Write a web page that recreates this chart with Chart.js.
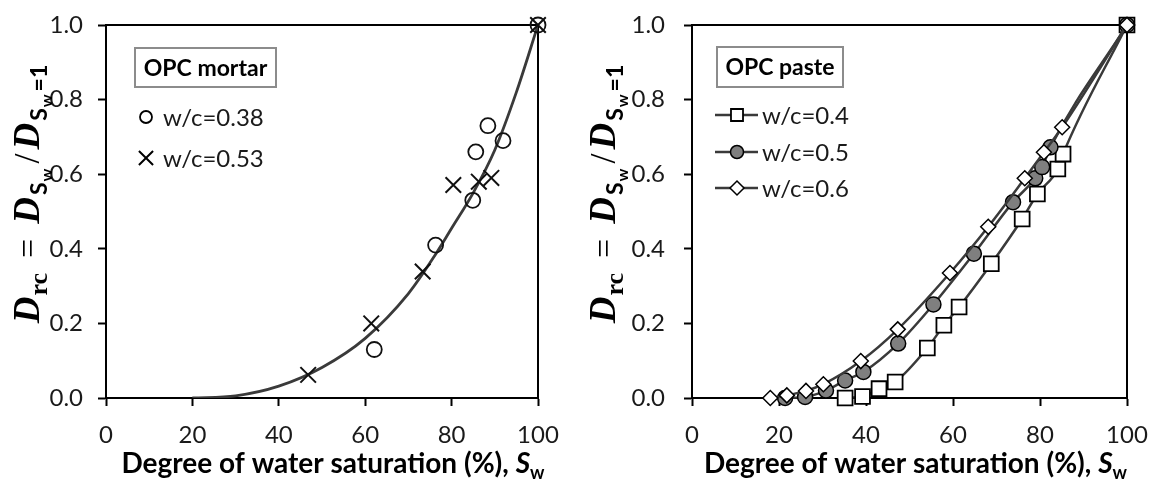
<!DOCTYPE html>
<html>
<head>
<meta charset="utf-8">
<script src="https://cdn.jsdelivr.net/npm/chart.js@4.4.1/dist/chart.umd.min.js"></script>
<style>
  html, body { margin: 0; padding: 0; background: #fff; }
  #wrap { position: relative; width: 1151px; height: 481px; }
  canvas { position: absolute; top: 0; }
  #chartMortar { left: 0; }
  #chartPaste { left: 576px; }
</style>
</head>
<body>
<div id="wrap">
  <canvas id="chartMortar" width="575" height="481"></canvas>
  <canvas id="chartPaste" width="575" height="481"></canvas>
</div>
<script>
// ---------- Data ----------
const xTicks = [0, 20, 40, 60, 80, 100];
const yTicks = [0, 0.2, 0.4, 0.6, 0.8, 1.0];

// OPC mortar, fitted curve
const mortarFitX = [20, 30, 40, 50, 60, 70, 76, 80, 85, 90, 95, 100];
const mortarFitY = [0, 0.006, 0.032, 0.082, 0.16, 0.28, 0.38, 0.455, 0.55, 0.665, 0.82, 1.0];
// w/c = 0.38 (circles)
const mortar38X = [62.1, 76.3, 84.9, 85.6, 88.4, 91.9, 100];
const mortar38Y = [0.13, 0.41, 0.53, 0.66, 0.73, 0.69, 1.0];
// w/c = 0.53 (crosses)
const mortar53X = [46.8, 61.4, 73.3, 80.4, 86.3, 89.2, 100];
const mortar53Y = [0.062, 0.2, 0.339, 0.571, 0.58, 0.59, 1.0];

// OPC paste
const paste4X = [35.2, 39.2, 43.0, 46.7, 54.1, 57.9, 61.4, 68.8, 75.9, 79.4, 84.1, 85.3, 100];
const paste4Y = [0.0, 0.004, 0.025, 0.043, 0.134, 0.195, 0.244, 0.36, 0.48, 0.547, 0.614, 0.654, 1.0];
const paste5X = [21.4, 26.0, 30.8, 35.2, 39.4, 47.4, 55.5, 64.8, 73.8, 78.9, 80.5, 82.4, 100];
const paste5Y = [0.0, 0.003, 0.02, 0.047, 0.07, 0.146, 0.251, 0.387, 0.525, 0.589, 0.619, 0.672, 1.0];
const paste6X = [18.0, 21.8, 26.2, 30.2, 38.8, 47.3, 59.3, 68.1, 76.5, 80.9, 85.1, 100];
const paste6Y = [0.0, 0.007, 0.019, 0.037, 0.099, 0.184, 0.335, 0.459, 0.589, 0.659, 0.726, 1.0];

// ---------- helpers ----------
const SANS = 'Lato, "Open Sans", sans-serif';
const SERIF = '"Liberation Serif", "DejaVu Serif", serif';
const LINE = '#3a3a3a';

function pts(xs, ys){ return xs.map((x, i) => ({ x: x, y: ys[i] })); }

// draw a run of text pieces [text, font, dy, extraGapAfter] centred on (0,0)
function drawRich(ctx, segs){
  let total = 0;
  segs.forEach(s => { ctx.font = s[1]; total += ctx.measureText(s[0]).width + (s[3] || 0); });
  let x = -total / 2;
  ctx.textAlign = 'left';
  ctx.textBaseline = 'alphabetic';
  segs.forEach(s => {
    ctx.font = s[1];
    ctx.fillText(s[0], x, s[2] || 0);
    x += ctx.measureText(s[0]).width + (s[3] || 0);
  });
}

// no extra room for overflowing tick labels: plot box is fixed by the layout padding
function noPad(s){ s.paddingTop = 0; s.paddingBottom = 0; s.paddingLeft = 0; s.paddingRight = 0; }

function makeScales(yWidth, yPad){
  const tickFont = { family: SANS, size: 24 };
  return {
    x: {
      type: 'linear', min: 0, max: 100,
      afterBuildTicks: s => { s.ticks = xTicks.map(v => ({ value: v })); },
      ticks: { font: tickFont, color: '#1a1a1a', padding: 15 },
      grid: { drawOnChartArea: false, tickLength: 8, tickWidth: 2, tickColor: '#000' },
      border: { color: '#000', width: 2 },
      afterFit: s => { s.height = 83; noPad(s); }
    },
    y: {
      type: 'linear', min: 0, max: 1,
      afterBuildTicks: s => { s.ticks = yTicks.map(v => ({ value: v })); },
      ticks: { font: tickFont, color: '#1a1a1a', padding: yPad, callback: v => v.toFixed(1) },
      grid: { drawOnChartArea: false, tickLength: 8, tickWidth: 2, tickColor: '#000' },
      border: { color: '#000', width: 2 },
      afterFit: s => { s.width = yWidth; noPad(s); }
    }
  };
}

// frame, axis titles and the little legend box
const decor = {
  id: 'decor',
  beforeDatasetsDraw(chart){
    const { ctx, chartArea: a } = chart;
    ctx.save();
    ctx.strokeStyle = '#000';
    ctx.lineWidth = 2;
    ctx.beginPath();
    ctx.moveTo(a.left, a.top); ctx.lineTo(a.right, a.top); ctx.lineTo(a.right, a.bottom);
    ctx.stroke();
    ctx.restore();
  },
  afterDraw(chart, args, opts){
    const { ctx, chartArea: a } = chart;
    ctx.save();
    ctx.fillStyle = '#000';

    // x title
    ctx.save();
    ctx.translate((a.left + a.right) / 2 + opts.xTitleShift, 473);
    drawRich(ctx, [
      ['Degree of water saturation (%), ', 'bold 28px ' + SANS, 0],
      ['S', 'italic bold 28px ' + SANS, 0],
      ['w', 'bold 18px ' + SANS, 6]
    ]);
    ctx.restore();

    // y title
    ctx.save();
    ctx.translate(opts.yTitleX, 194);
    ctx.rotate(-Math.PI / 2);
    const D = 'italic bold 37px ' + SERIF;
    const SUB = 'bold 23px ' + SANS;
    const SUB2 = 'bold 16px ' + SANS;
    drawRich(ctx, [
      ['D', D, 0, 1], ['rc', 'bold 26px ' + SERIF, 8, 15],
      ['=', '34px ' + SERIF, 0, 15],
      ['D', D, 0, 2], ['S', SUB, 8, 1], ['w', SUB2, 13, 5],
      ['/', '36px ' + SERIF, 0, 4],
      ['D', D, 0, 2], ['S', SUB, 8, 1], ['w', SUB2, 13, 3], ['=1', SUB, 8]
    ]);
    ctx.restore();

    // legend box title
    const b = opts.box;
    ctx.strokeStyle = '#8c8c8c';
    ctx.lineWidth = 2;
    ctx.strokeRect(b.x, b.y, b.w, b.h);
    ctx.font = 'bold 23px ' + SANS;
    ctx.textAlign = 'center';
    ctx.textBaseline = 'middle';
    ctx.fillText(b.text, b.x + b.w / 2, b.y + b.h / 2 + 1);

    // legend entries
    opts.items.forEach(it => {
      if (it.line) {
        ctx.strokeStyle = LINE;
        ctx.lineWidth = 2.5;
        ctx.beginPath();
        ctx.moveTo(it.x - 22, it.y); ctx.lineTo(it.x + 21, it.y);
        ctx.stroke();
      }
      ctx.fillStyle = it.fill;
      ctx.strokeStyle = '#000';
      ctx.lineWidth = it.bw;
      Chart.helpers.drawPoint(ctx, { pointStyle: it.style, radius: it.r, rotation: 0, borderWidth: it.bw }, it.x, it.y);
      ctx.fillStyle = '#1a1a1a';
      ctx.font = '24px ' + SANS;
      ctx.textAlign = 'left';
      ctx.textBaseline = 'middle';
      ctx.fillText(it.label, it.tx, it.y + 1);
    });
    ctx.restore();
  }
};

// ---------- OPC mortar ----------
new Chart(document.getElementById('chartMortar'), {
  type: 'scatter',
  data: {
    datasets: [
      { label: 'w/c=0.38', data: pts(mortar38X, mortar38Y), pointStyle: 'circle', pointRadius: 7.5,
        borderColor: '#111', borderWidth: 1.8, backgroundColor: 'rgba(0,0,0,0)', clip: false, order: 1 },
      { label: 'w/c=0.53', data: pts(mortar53X, mortar53Y), pointStyle: 'crossRot', pointRadius: 11,
        borderColor: '#111', borderWidth: 2, clip: false, order: 0 },
      { label: 'fit', data: pts(mortarFitX, mortarFitY), showLine: true, pointRadius: 0,
        borderColor: LINE, borderWidth: 2.8, cubicInterpolationMode: 'monotone', order: 2 }
    ]
  },
  options: {
    responsive: false, animation: false,
    layout: { padding: { left: 0, right: 37, top: 25, bottom: 0 } },
    plugins: {
      legend: { display: false }, tooltip: { enabled: false },
      decor: {
        yTitleX: 39, xTitleShift: 11,
        box: { x: 135, y: 48, w: 141, h: 39, text: 'OPC mortar' },
        items: [
          { style: 'circle', r: 6, bw: 1.8, fill: 'rgba(0,0,0,0)', x: 146, y: 117, tx: 163, label: 'w/c=0.38' },
          { style: 'crossRot', r: 10, bw: 2, fill: 'rgba(0,0,0,0)', x: 146, y: 158, tx: 163, label: 'w/c=0.53' }
        ]
      }
    },
    scales: makeScales(106, 15)
  },
  plugins: [decor]
});

// ---------- OPC paste ----------
new Chart(document.getElementById('chartPaste'), {
  type: 'scatter',
  data: {
    datasets: [
      { label: 'w/c=0.4', data: pts(paste4X, paste4Y), showLine: true, pointStyle: 'rect', pointRadius: 10.5,
        borderColor: LINE, borderWidth: 2.5, pointBorderColor: '#000', pointBorderWidth: 1.8,
        pointBackgroundColor: '#fff', cubicInterpolationMode: 'monotone', clip: false, order: 2 },
      { label: 'w/c=0.5', data: pts(paste5X, paste5Y), showLine: true, pointStyle: 'circle', pointRadius: 7.5,
        borderColor: LINE, borderWidth: 2.5, pointBorderColor: '#000', pointBorderWidth: 1.5,
        pointBackgroundColor: '#7f7f7f', cubicInterpolationMode: 'monotone', clip: false, order: 1 },
      { label: 'w/c=0.6', data: pts(paste6X, paste6Y), showLine: true, pointStyle: 'rectRot', pointRadius: 7.5,
        borderColor: LINE, borderWidth: 2.5, pointBorderColor: '#000', pointBorderWidth: 1.5,
        pointBackgroundColor: '#fff', cubicInterpolationMode: 'monotone', clip: false, order: 0 }
    ]
  },
  options: {
    responsive: false, animation: false,
    layout: { padding: { left: 0, right: 24, top: 25, bottom: 0 } },
    plugins: {
      legend: { display: false }, tooltip: { enabled: false },
      decor: {
        yTitleX: 39, xTitleShift: 6,
        box: { x: 141, y: 47, w: 126, h: 40, text: 'OPC paste' },
        items: [
          { line: true, style: 'rect', r: 8.5, bw: 1.8, fill: '#fff', x: 161, y: 115, tx: 186, label: 'w/c=0.4' },
          { line: true, style: 'circle', r: 6.5, bw: 1.5, fill: '#7f7f7f', x: 161, y: 152, tx: 186, label: 'w/c=0.5' },
          { line: true, style: 'rectRot', r: 7, bw: 1.5, fill: '#fff', x: 161, y: 188, tx: 186, label: 'w/c=0.6' }
        ]
      }
    },
    scales: makeScales(116, 19)
  },
  plugins: [decor]
});
</script>
</body>
</html>
